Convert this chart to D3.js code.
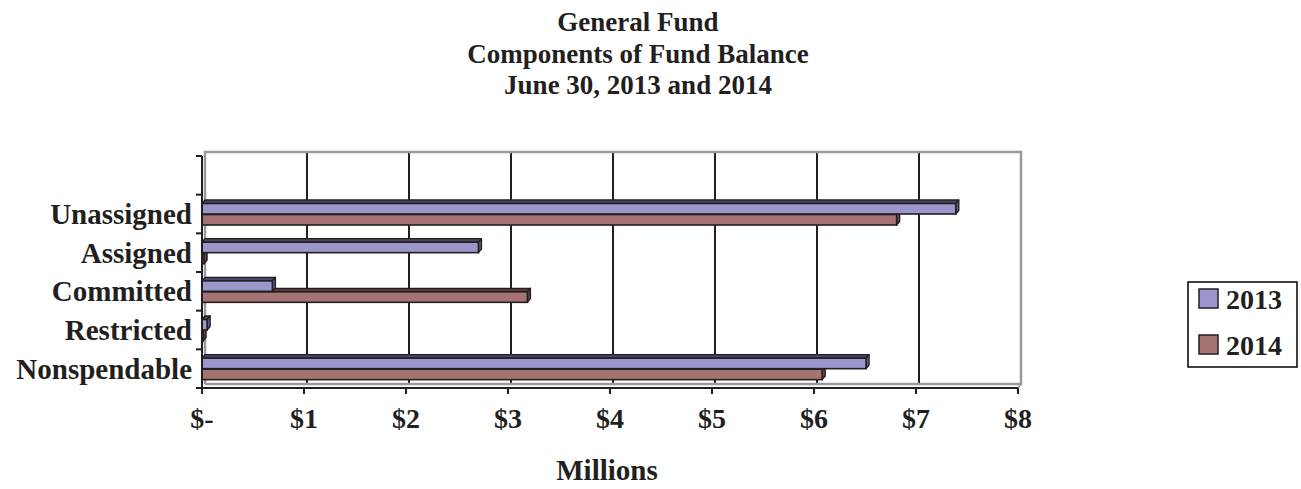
<!DOCTYPE html>
<html>
<head>
<meta charset="utf-8">
<script src="https://cdn.jsdelivr.net/npm/d3@7/dist/d3.min.js"></script>
<style>
  html, body { margin: 0; padding: 0; background: #fff; }
  svg { display: block; }
  text { font-family: "Liberation Serif", "Times New Roman", serif; font-weight: bold; fill: #231f20; }
</style>
</head>
<body>
<svg id="chart" width="1301" height="489"></svg>
<script>
// Fund balance components, in millions of dollars
const categories = ["Unassigned", "Assigned", "Committed", "Restricted", "Nonspendable"];
const values2013 = [7.39, 2.71, 0.69, 0.05, 6.51];
const values2014 = [6.81, 0.02, 3.19, 0.01, 6.08];
const seriesNames = ["2013", "2014"];
const xTickValues = [0, 1, 2, 3, 4, 5, 6, 7, 8];
const xTickLabels = ["$-", "$1", "$2", "$3", "$4", "$5", "$6", "$7", "$8"];
const titleLines = ["General Fund", "Components of Fund Balance", "June 30, 2013 and 2014"];
const axisTitle = "Millions";

const colors = {
  "2013": { front: "#9b97cc", top: "#4a4868", side: "#5f5c88" },
  "2014": { front: "#a67373", top: "#553838", side: "#6b4545" }
};
const edge = "#231f20";

const svg = d3.select("#chart");

// Front plane of the plot and the depth offset of the back wall
const front = { left: 202, right: 1018, top: 156, bottom: 388 };
const depth = { dx: 3, dy: -4 };

const x = d3.scaleLinear().domain([0, 8]).range([front.left, front.right]);
// one blank slot above the first category, as in the original layout
const slots = [""].concat(categories);
const y = d3.scaleBand().domain(slots).range([front.top, front.bottom]);

// ---- Back wall, side wall and floor
const back = {
  left: front.left + depth.dx, right: front.right + depth.dx,
  top: front.top + depth.dy, bottom: front.bottom + depth.dy
};
svg.append("rect")
  .attr("x", back.left).attr("y", back.top)
  .attr("width", back.right - back.left).attr("height", back.bottom - back.top)
  .attr("fill", "#fff");

// vertical gridlines on the back wall
svg.append("g").selectAll("line")
  .data(xTickValues.filter(v => v > 0 && v < 8))
  .join("line")
  .attr("x1", d => x(d) + depth.dx).attr("x2", d => x(d) + depth.dx)
  .attr("y1", back.top).attr("y2", back.bottom)
  .attr("stroke", edge).attr("stroke-width", 2);

// wall outline (grey)
svg.append("path")
  .attr("d", `M${back.left},${back.bottom} L${back.left},${back.top} L${back.right},${back.top} L${back.right},${back.bottom} L${back.left},${back.bottom}`)
  .attr("fill", "none").attr("stroke", "#9a9a9a").attr("stroke-width", 2.5);
// floor corner joining back wall to the front axis
svg.append("line")
  .attr("x1", back.right).attr("y1", back.bottom)
  .attr("x2", front.right).attr("y2", front.bottom)
  .attr("stroke", "#9a9a9a").attr("stroke-width", 1.5);

// ---- 3D bars
const barH = 10.5;
function drawBar(g, cat, val, idx, name) {
  const c = colors[name];
  const y0 = y(cat) + y.bandwidth() / 2 - barH + idx * (barH + 0.5);
  const x0 = x(0), x1 = x(val);
  const dx = depth.dx, dy = depth.dy + 0.5;
  g.append("path")
    .attr("d", `M${x0},${y0} L${x0 + dx},${y0 + dy} L${x1 + dx},${y0 + dy} L${x1},${y0} Z`)
    .attr("fill", c.top).attr("stroke", edge).attr("stroke-width", 1.4).attr("stroke-linejoin", "round");
  g.append("path")
    .attr("d", `M${x1},${y0} L${x1 + dx},${y0 + dy} L${x1 + dx},${y0 + barH + dy} L${x1},${y0 + barH} Z`)
    .attr("fill", c.side).attr("stroke", edge).attr("stroke-width", 1.4).attr("stroke-linejoin", "round");
  g.append("rect")
    .attr("x", x0).attr("y", y0)
    .attr("width", Math.max(0, x1 - x0)).attr("height", barH)
    .attr("fill", c.front).attr("stroke", edge).attr("stroke-width", 1.6);
}
const bars = svg.append("g");
// later series first so the earlier series' front face overlaps its top face
categories.forEach((cat, i) => drawBar(bars, cat, values2014[i], 1, "2014"));
categories.forEach((cat, i) => drawBar(bars, cat, values2013[i], 0, "2013"));

// ---- Front axes
const axisG = svg.append("g");
axisG.append("line")
  .attr("x1", front.left).attr("x2", front.left)
  .attr("y1", front.top).attr("y2", front.bottom + 6)
  .attr("stroke", edge).attr("stroke-width", 2);
axisG.append("line")
  .attr("x1", front.left - 1).attr("x2", front.right)
  .attr("y1", front.bottom).attr("y2", front.bottom)
  .attr("stroke", edge).attr("stroke-width", 2);

// category ticks on the band boundaries
const bounds = slots.map(s => y(s)).concat([front.bottom]);
axisG.selectAll(".ytick").data(bounds).join("line")
  .attr("class", "ytick")
  .attr("x1", front.left - 6).attr("x2", front.left)
  .attr("y1", d => d).attr("y2", d => d)
  .attr("stroke", edge).attr("stroke-width", 2);

// value ticks
axisG.selectAll(".xtick").data(xTickValues).join("line")
  .attr("class", "xtick")
  .attr("x1", d => x(d)).attr("x2", d => x(d))
  .attr("y1", front.bottom).attr("y2", front.bottom + 6)
  .attr("stroke", edge).attr("stroke-width", 2);

// value tick labels
svg.append("g").selectAll("text").data(xTickValues).join("text")
  .attr("x", d => x(d)).attr("y", 428)
  .attr("text-anchor", "middle")
  .attr("font-size", 28)
  .text((d, i) => xTickLabels[i]);

// category labels
svg.append("g").selectAll("text").data(categories).join("text")
  .attr("x", 192)
  .attr("y", d => y(d) + y.bandwidth() / 2 + 10)
  .attr("text-anchor", "end")
  .attr("font-size", 29)
  .text(d => d);

// axis title
svg.append("text")
  .attr("x", 607).attr("y", 480)
  .attr("text-anchor", "middle")
  .attr("font-size", 29)
  .text(axisTitle);

// chart title
svg.append("g").selectAll("text").data(titleLines).join("text")
  .attr("x", 638)
  .attr("y", (d, i) => 31 + i * 31.5)
  .attr("text-anchor", "middle")
  .attr("font-size", 27)
  .text(d => d);

// ---- Legend
const legend = svg.append("g");
legend.append("rect")
  .attr("x", 1188).attr("y", 282).attr("width", 109).attr("height", 85)
  .attr("fill", "#fff").attr("stroke", "#000").attr("stroke-width", 1.5);
const items = legend.selectAll(".item").data(seriesNames).join("g")
  .attr("class", "item")
  .attr("transform", (d, i) => `translate(1199, ${289 + i * 46})`);
items.append("rect")
  .attr("width", 19).attr("height", 19)
  .attr("fill", d => colors[d].front)
  .attr("stroke", edge).attr("stroke-width", 1.5);
items.append("text")
  .attr("x", 27).attr("y", 20)
  .attr("font-size", 28)
  .text(d => d);
</script>
</body>
</html>
